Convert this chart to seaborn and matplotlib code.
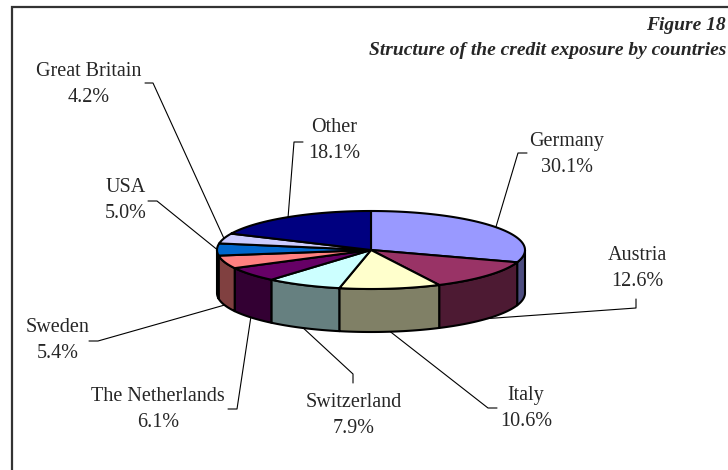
import matplotlib
matplotlib.use("Agg")
import matplotlib.pyplot as plt
from matplotlib.patches import Polygon
import seaborn as sns
import numpy as np

countries = ["Germany", "Austria", "Italy", "Switzerland", "The Netherlands",
             "Sweden", "USA", "Great Britain", "Other"]
shares = [30.1, 12.6, 10.6, 7.9, 6.1, 5.4, 5.0, 4.2, 18.1]
top_colors = ["#9999FF", "#993366", "#FFFFCC", "#CCFFFF", "#660066",
              "#FF8080", "#0066CC", "#CCCCFF", "#000080"]

fig_title = "Figure 18"
fig_subtitle = "Structure of the credit exposure by countries"

# label layout in pixel coords: (centre x, name baseline y) and leader start points
label_pos = {
    "Germany": (567, 146), "Austria": (637, 260), "Italy": (526, 400),
    "Switzerland": (354, 407), "The Netherlands": (158, 401), "Sweden": (58, 332),
    "USA": (126, 192), "Great Britain": (89, 76), "Other": (334, 132),
}
leader_start = {
    "Germany": [(527, 153), (518, 153)], "Austria": [(636, 299), (636, 308)],
    "Italy": [(497, 408), (488, 408)], "Switzerland": [(353, 383), (353, 374)],
    "The Netherlands": [(228, 409), (237, 409)], "Sweden": [(89, 341), (98, 341)],
    "USA": [(148, 201), (157, 201)], "Great Britain": [(145, 83), (153, 83)],
    "Other": [(303, 142), (294, 142)],
}

sns.set_style("white")
plt.rcParams['font.family'] = ['Liberation Serif', 'DejaVu Serif']

W, H = 728, 470
fig = plt.figure(figsize=(W / 100, H / 100), dpi=100)
ax = fig.add_axes([0, 0, 1, 1])
ax.set_xlim(0, W)
ax.set_ylim(H, 0)
ax.axis("off")

# pie geometry (pixels)
cx, cy, rx, ry, depth = 371, 250, 154, 39, 43


def pt(theta, dz=0.0):
    t = np.radians(theta)
    return cx + rx * np.cos(t), cy - ry * np.sin(t) + dz


def arc(t1, t2, dz=0.0, n=80):
    ts = np.linspace(t1, t2, n)
    return [pt(t, dz) for t in ts]


cum = np.concatenate([[0], np.cumsum(shares)])
theta_start = 90 - cum[:-1] * 3.6
theta_end = 90 - cum[1:] * 3.6

# sides (front half only)
for i in range(len(shares)):
    hi = min(theta_start[i], 0)
    lo = max(theta_end[i], -180)
    if lo < hi:
        side_col = tuple(c * 0.5 for c in matplotlib.colors.to_rgb(top_colors[i]))
        pts = arc(hi, lo) + arc(lo, hi, depth)
        ax.add_patch(Polygon(pts, closed=True, facecolor=side_col,
                             edgecolor="black", lw=1.5, joinstyle="round"))

# top faces
for i in range(len(shares)):
    pts = [(cx, cy)] + arc(theta_start[i], theta_end[i])
    ax.add_patch(Polygon(pts, closed=True, facecolor=top_colors[i],
                         edgecolor="black", lw=1.5, joinstyle="round"))

# labels and leader lines
for i, name in enumerate(countries):
    mid = (theta_start[i] + theta_end[i]) / 2
    dz = depth if np.sin(np.radians(mid)) < 0 else 0
    anchor = pt(mid, dz)
    line = leader_start[name] + [anchor]
    ax.plot([p[0] for p in line], [p[1] for p in line], color="black", lw=0.8)
    lx, ly = label_pos[name]
    ax.text(lx, ly, name, ha="center", va="baseline", fontsize=14.5)
    ax.text(lx, ly + 26, f"{shares[i]:.1f}%", ha="center", va="baseline", fontsize=14.5)

# titles
ax.text(726, 30, fig_title, ha="right", va="baseline", fontsize=14,
        fontweight="bold", fontstyle="italic")
ax.text(726, 55, fig_subtitle, ha="right", va="baseline", fontsize=14,
        fontweight="bold", fontstyle="italic")

# frame
ax.plot([12, 12, W + 5], [H + 5, 7, 7], color="#333333", lw=1.6, solid_joinstyle="miter")

fig.savefig("out.png", dpi=100)
